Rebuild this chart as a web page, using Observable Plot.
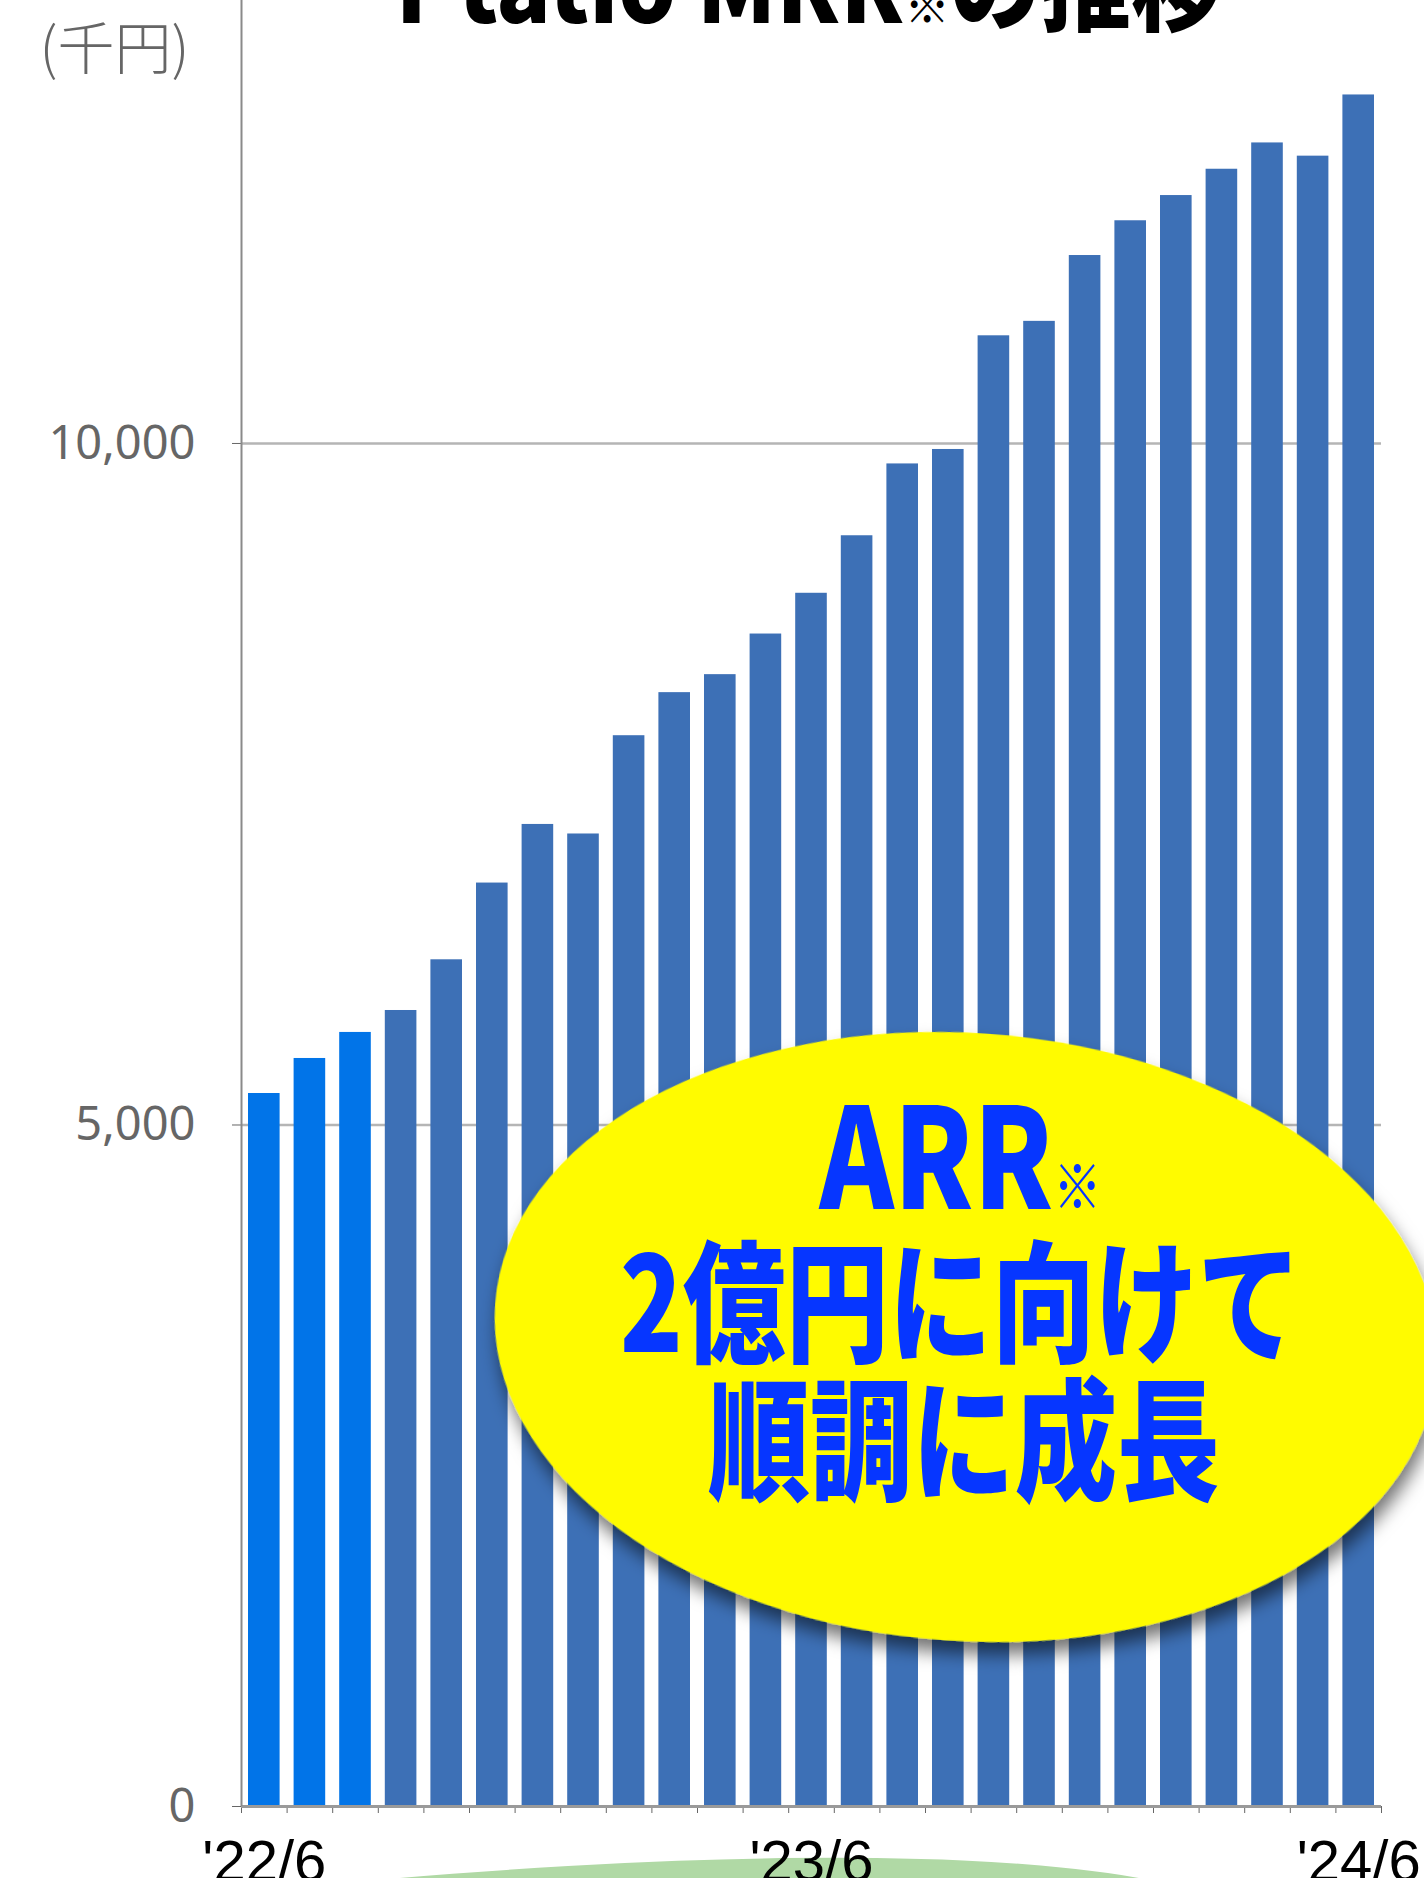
<!DOCTYPE html>
<html>
<head>
<meta charset="utf-8">
<script src="https://cdn.jsdelivr.net/npm/d3@7"></script>
<script src="https://cdn.jsdelivr.net/npm/@observablehq/plot@0.6"></script>
<style>
html, body { margin: 0; padding: 0; background: #ffffff; }
#chart { width: 1424px; height: 1878px; overflow: hidden; position: relative; }
#chart svg { display: block; }
</style>
</head>
<body>
<div id="chart"></div>
<script>
// ---- data ----
const months = ["'22/6","'22/7","'22/8","'22/9","'22/10","'22/11","'22/12","'23/1","'23/2","'23/3","'23/4","'23/5",
                "'23/6","'23/7","'23/8","'23/9","'23/10","'23/11","'23/12","'24/1","'24/2","'24/3","'24/4","'24/5","'24/6"];
const mrr = [5231, 5488, 5679, 5840, 6212, 6775, 7205, 7135, 7856, 8172, 8304, 8602,
             8901, 9323, 9850, 9956, 10790, 10896, 11379, 11634, 11819, 12012, 12205, 12108, 12557];
const highlightMonths = ["'22/6", "'22/7", "'22/8"];
const yTicks = [0, 5000, 10000];
const gridValues = [5000, 10000];
const xLabelMonths = ["'22/6", "'23/6", "'24/6"];
const unitLabel = "(千円)";
const titleParts = ["Ptatio MRR", "※", "の推移"];
const calloutLine1 = ["ARR", "※"];
const calloutLine2 = "2億円に向けて";
const calloutLine3 = "順調に成長";
// callout anchor in data space (month index, value)
const calloutAt = {x: 15.9, y: 3441};
const greenAt = {x: -5.6};

const data = months.map((m, i) => ({month: m, i, value: mrr[i], early: highlightMonths.includes(m)}));

const earlyColor = "#0174e8";
const mainColor = "#3d70b6";
const blue = "#0636ff";

function calloutEllipse(index, scales, values, dims) {
  const cx = scales.x(calloutAt.x), cy = scales.y(calloutAt.y);
  const g = d3.create("svg:g");
  const f = g.append("defs").append("filter").attr("id", "callout-shadow")
    .attr("x", "-20%").attr("y", "-20%").attr("width", "140%").attr("height", "140%");
  f.append("feDropShadow").attr("dx", 4).attr("dy", 12).attr("stdDeviation", 9)
    .attr("flood-color", "#000").attr("flood-opacity", 0.55);
  g.append("ellipse")
    .attr("cx", cx).attr("cy", cy).attr("rx", 472).attr("ry", 304)
    .attr("transform", `rotate(4 ${cx} ${cy})`)
    .attr("fill", "#fffb00")
    .attr("filter", "url(#callout-shadow)");
  return g.node();
}

function greenBubble(index, scales, values, dims) {
  const cx = scales.x(greenAt.x);
  const cy = dims.height - dims.marginBottom + 52 + 268;
  const g = d3.create("svg:g").attr("class", "green-bubble");
  g.append("ellipse")
    .attr("cx", cx).attr("cy", cy).attr("rx", 1300).attr("ry", 200)
    .attr("transform", `rotate(-8 ${cx} ${cy})`)
    .attr("fill", "#b0d9a5");
  return g.node();
}

const plot = Plot.plot({
  width: 1424,
  height: 1878,
  marginLeft: 241,
  marginRight: 43,
  marginTop: 0,
  marginBottom: 72,
  style: {fontFamily: "'Noto Sans', sans-serif", fontSize: "47px", color: "#666", background: "#fff"},
  x: {domain: [0, months.length], ticks: d3.range(months.length + 1), tickFormat: () => "", tickSize: 7, label: null},
  y: {domain: [0, 13250], ticks: yTicks, tickFormat: d3.format(","), tickSize: 9, tickPadding: 37, label: null},
  color: {type: "identity"},
  marks: [
    greenBubble,
    Plot.ruleY(gridValues, {stroke: "#b5b5b5", strokeWidth: 2.5}),
    Plot.rectY(data, {x1: "i", x2: d => d.i + 1, y: "value", insetLeft: 7, insetRight: 7,
                      fill: d => d.early ? earlyColor : mainColor}),
    Plot.ruleY([0], {stroke: "#9a9a9a", strokeWidth: 3}),
    Plot.ruleX([0], {stroke: "#8a8a8a", strokeWidth: 2}),
    calloutEllipse,
    Plot.text([calloutLine1.join("")], {x: () => calloutAt.x, y: () => calloutAt.y, dx: -6, dy: -128, lineAnchor: "bottom",
      fontFamily: "'Noto Sans CJK JP'", fontWeight: 900, fontSize: 140, fill: blue}),
    Plot.text([calloutLine2], {x: () => calloutAt.x, y: () => calloutAt.y, dx: -6, dy: 15, lineAnchor: "bottom",
      fontFamily: "'Noto Sans CJK JP'", fontWeight: 900, fontSize: 132, fill: blue}),
    Plot.text([calloutLine3], {x: () => calloutAt.x, y: () => calloutAt.y, dx: -3, dy: 153, lineAnchor: "bottom",
      fontFamily: "'Noto Sans CJK JP'", fontWeight: 900, fontSize: 132, fill: blue}),
    Plot.text(xLabelMonths, {x: m => months.indexOf(m) + 0.5, frameAnchor: "bottom", dy: 74, lineAnchor: "bottom",
      fontFamily: "'Liberation Sans', Arial, sans-serif", fontSize: 58, fill: "#000"}),
    Plot.text([unitLabel], {frameAnchor: "top-left", dx: -202, dy: 68, textAnchor: "start", lineAnchor: "bottom",
      fontFamily: "'Noto Sans CJK JP'", fontWeight: 300, fontSize: 57, fill: "#666"}),
    Plot.text([titleParts.join("")], {frameAnchor: "top", dx: -3, dy: 22, lineAnchor: "bottom",
      fontFamily: "'Noto Sans CJK JP'", fontWeight: 900, fontSize: 100, fill: "#000"})
  ]
});

// rich text: small ※ marks and condensed widths
function richText(fullText, parts, sizes, textLength) {
  const t = d3.select(plot).selectAll("text").filter(function() { return this.textContent === fullText; });
  if (t.empty()) return;
  t.text(null);
  parts.forEach((s, k) => {
    const ts = t.append("tspan").text(s);
    if (sizes && sizes[k]) ts.attr("font-size", sizes[k]);
  });
  if (textLength) t.attr("textLength", textLength).attr("lengthAdjust", "spacingAndGlyphs");
}
richText(titleParts.join(""), titleParts, [null, 50, null], 826);
richText(calloutLine1.join(""), calloutLine1, [null, 60], 282);
richText(calloutLine2, [calloutLine2], null, 681);
richText(calloutLine3, [calloutLine3], null, 512);

// keep the decorative green bubble underneath everything
const gb = plot.querySelector(".green-bubble");
if (gb) plot.insertBefore(gb, plot.firstChild.nextSibling);

document.getElementById("chart").appendChild(plot);
</script>
</body>
</html>
